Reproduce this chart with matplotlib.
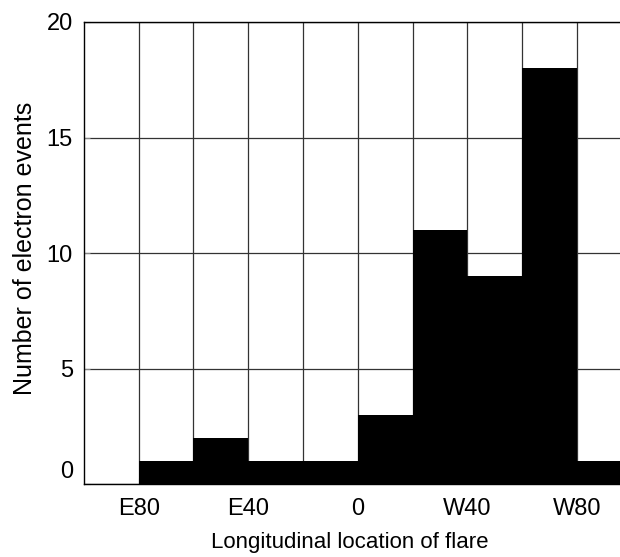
import matplotlib
matplotlib.use("Agg")
import matplotlib.pyplot as plt
import matplotlib.transforms as mtransforms

plt.rcParams['font.family'] = ['Liberation Sans', 'DejaVu Sans']

bin_left = [-100, -80, -60, -40, -20, 0, 20, 40, 60, 80]
counts = [0, 1, 2, 1, 1, 3, 11, 9, 18, 1]
bin_width = 20
xtick_pos = [-80, -40, 0, 40, 80]
xtick_labels = ["E80", "E40", "0", "W40", "W80"]
minor_pos = [-60, -20, 20, 60]
ytick_pos = [0, 5, 10, 15, 20]

fig = plt.figure(figsize=(6.2, 5.57), dpi=100)
ax_w = 631.5 - 84
ax_h = 484 - 22
ax = fig.add_axes([84/620, (557-484)/557, ax_w/620, ax_h/557])

ax.bar(bin_left, counts, width=bin_width, align='edge', color='black',
       edgecolor='none', zorder=2)

ax.set_xlim(-100, 100)
ax.set_ylim(0, 20)
ax.set_xticks(xtick_pos)
ax.set_xticklabels(xtick_labels)
ax.set_xticks(minor_pos, minor=True)
ax.set_yticks(ytick_pos)
ax.set_yticklabels([str(v) for v in ytick_pos])

ax.grid(True, which='both', axis='x', color='#333333', linewidth=0.9, zorder=0)
ax.grid(True, which='major', axis='y', color='#333333', linewidth=0.9, zorder=0)
ax.set_axisbelow(True)

ax.tick_params(axis='both', which='both', direction='in', length=4, width=0.8,
               color='#888888', labelsize=17)
ax.tick_params(axis='x', which='both', pad=10)
ax.tick_params(axis='y', which='both', pad=8)

for sp in ax.spines.values():
    sp.set_linewidth(1.0)
    sp.set_color('black')
    sp.set_zorder(3)

# shift the "0" y tick label upward as in the reference
offset = mtransforms.ScaledTranslation(0, 14/100, fig.dpi_scale_trans)
lbl0 = ax.get_yticklabels()[0]
lbl0.set_transform(lbl0.get_transform() + offset)

ax.set_xlabel("Longitudinal location of flare", fontsize=16)
ax.set_ylabel("Number of electron events", fontsize=18)
ax.xaxis.set_label_coords((350 - 84) / ax_w, (484 - 532) / ax_h)
ax.yaxis.set_label_coords((37 - 84) / ax_w, (484 - 248) / ax_h)

fig.savefig("out.png", dpi=100)
